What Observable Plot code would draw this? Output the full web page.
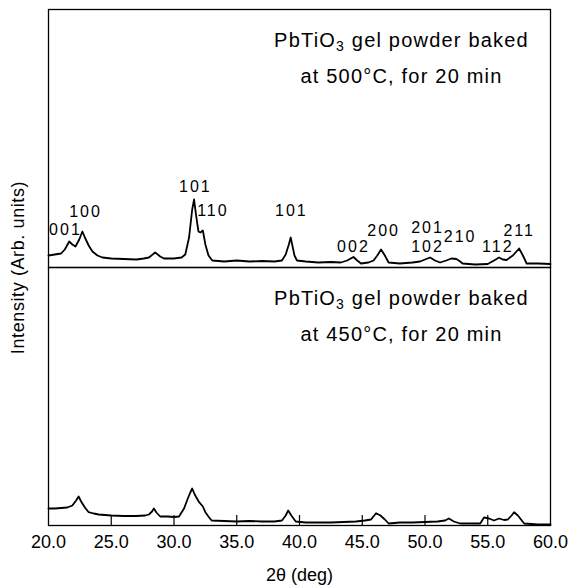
<!DOCTYPE html>
<html>
<head>
<meta charset="utf-8">
<script src="https://cdn.jsdelivr.net/npm/d3@7"></script>
<script src="https://cdn.jsdelivr.net/npm/@observablehq/plot@0.6"></script>
<style>
  html, body { margin: 0; padding: 0; background: #fff; }
  #chart svg { display: block; }
</style>
</head>
<body>
<div id="chart"></div>
<script>
// 2θ positions and intensities (arbitrary units)
const twoTheta500 = [20.0,20.5,21.0,21.3,21.65,21.9,22.15,22.45,22.7,22.9,23.2,23.5,23.9,24.3,25.0,26.0,27.0,27.6,28.0,28.5,28.9,29.2,30.0,30.6,30.9,31.2,31.45,31.6,31.75,31.95,32.1,32.3,32.5,32.75,33.05,34.0,35.0,36.0,37.0,38.0,38.6,38.9,39.15,39.3,39.45,39.6,39.8,40.5,41.5,42.5,43.3,43.8,44.3,44.6,44.9,45.5,45.9,46.2,46.5,46.8,47.1,48.0,49.0,49.6,50.0,50.4,50.8,51.2,51.7,52.1,52.5,52.8,53.0,54.0,55.0,55.5,55.9,56.2,56.5,57.0,57.5,57.8,58.1,59.0,60.0];
const intensity500 = [12,13,14,18,26,23,21,28,36,30,22,16,12,10,9,8.5,8,9,10,15,11,9,9,10,13,30,58,68,53,36,35,37,23,12,7,6,7,6,6.5,6,7,13,23,30,21,12,7,6,5,5.5,5,7,10.5,7,4,5,7,12,18,12,5,4,5,6,8,10,7,5,7,9,8.5,6,4,3,3.5,7,10,8,7.5,12,19,12,4,4,3.5];

const twoTheta450 = [20.0,20.5,21.0,21.5,21.9,22.2,22.4,22.6,22.9,23.2,23.6,24.0,25.0,26.0,27.0,27.7,28.0,28.25,28.4,28.6,28.9,29.5,30.0,30.4,30.8,31.1,31.3,31.45,31.65,32.0,32.3,32.5,32.8,33.0,34.0,35.0,36.0,37.0,38.0,38.6,38.9,39.1,39.35,39.7,40.5,41.5,42.5,43.5,44.5,45.2,45.7,46.1,46.45,46.8,47.1,48.0,49.0,50.0,51.0,51.6,51.9,52.3,52.8,53.5,54.4,54.7,55.1,55.5,55.9,56.3,56.6,56.9,57.1,57.4,57.9,59.0,60.0];
const intensity450 = [17,17,17.5,18,20,25,29,24,18,13.3,12,11,10,9.5,9.5,10,11,14,17,13,9,9,8.5,9,17,27,33,37,31,23.3,19,13.3,8,5,4.5,4,4.5,4,4,5,10,15,10,4,3,3,3,3.5,4,5,6,12.3,10,6,2,3,3,3.5,4,5,7,4,2,2,2,8,7,5,7,5.5,6,10,13.3,10,2,1,1];

// Miller-index labels of the 500 °C pattern
const peakLabels = ["001","100","101","110","101","002","200","201","102","210","112","211"];
const peakX      = [21.35,22.95,31.7,33.1,39.35,44.3,46.7,50.2,50.2,52.8,55.8,57.5];
const peakY      = [38,56,81,57,57,21,37,40,21,31,21,37];

const panels = ["500", "450"];
const noteLine1 = "PbTiO3 gel powder baked";
const noteLine2 = {"500": "at 500°C, for 20 min", "450": "at 450°C, for 20 min"};
const xTicks = [20, 25, 30, 35, 40, 45, 50, 55, 60];
const xLabel = "2θ (deg)";
const yLabel = "Intensity (Arb. units)";

const rows = [
  ...twoTheta500.map((x, i) => ({x, y: intensity500[i], panel: "500"})),
  ...twoTheta450.map((x, i) => ({x, y: intensity450[i], panel: "450"}))
];
const peaks = peakLabels.map((t, i) => ({t, x: peakX[i], y: peakY[i], panel: "500"}));

const font = "'Liberation Sans', Arial, Helvetica, sans-serif";

const chart = Plot.plot({
  width: 574,
  height: 585,
  marginTop: 9,
  marginBottom: 60,
  marginLeft: 48,
  marginRight: 24,
  style: {fontFamily: font, color: "#000", background: "#fff"},
  x: {domain: [20, 60], label: null},
  y: {domain: [0, 258], axis: null},
  fy: {domain: panels, axis: null, padding: 0},
  marks: [
    Plot.frame({stroke: "#000", strokeWidth: 1.3}),
    Plot.ruleX(xTicks.slice(1, -1), {x: d => d, y1: 0, y2: 10, fy: () => "450", stroke: "#000", strokeWidth: 1.2}),
    Plot.line(rows, {x: "x", y: "y", fy: "panel", z: "panel", stroke: "#000", strokeWidth: 1.8, strokeLinejoin: "round"}),
    Plot.text(peaks, {x: "x", y: "y", fy: "panel", text: "t", fontSize: 16, fill: "#000"}),
    Plot.text(panels, {fy: d => d, text: () => noteLine1, frameAnchor: "top", lineAnchor: "middle", dx: 102, dy: 31, fontSize: 20, fill: "#000"}),
    Plot.text(panels, {fy: d => d, text: d => noteLine2[d], frameAnchor: "top", lineAnchor: "middle", dx: 102, dy: 67, fontSize: 20, fill: "#000"}),
    Plot.axisX(xTicks, {tickSize: 0, tickPadding: 10, tickFormat: d => d.toFixed(1), fontSize: 18, label: null}),
    Plot.text([yLabel], {fy: () => "500", frameAnchor: "bottom-left", rotate: -90, textAnchor: "middle", lineAnchor: "middle", dx: -30, fontSize: 18, fill: "#000"}),
    Plot.text([xLabel], {fy: () => "450", frameAnchor: "bottom", lineAnchor: "middle", dy: 50, fontSize: 18, fill: "#000"})
  ]
});
document.getElementById("chart").appendChild(chart);

const ns = "http://www.w3.org/2000/svg";
const line2Texts = Object.values(noteLine2);
chart.querySelectorAll("text, tspan").forEach(el => {
  if (el.children.length !== 0) return;
  const s = el.textContent;
  if (peakLabels.includes(s)) el.style.letterSpacing = "2px";
  else if (line2Texts.includes(s)) el.style.letterSpacing = "1.2px";
  else if (s === yLabel) el.style.letterSpacing = "0.6px";
  else if (s === noteLine1) {
    // subscript the 3 of PbTiO3
    el.style.letterSpacing = "1.2px";
    el.textContent = "";
    const a = document.createElementNS(ns, "tspan"); a.textContent = "PbTiO";
    const b = document.createElementNS(ns, "tspan"); b.textContent = "3"; b.setAttribute("dy", "4"); b.setAttribute("font-size", "14");
    const c = document.createElementNS(ns, "tspan"); c.textContent = " gel powder baked"; c.setAttribute("dy", "-4");
    el.append(a, b, c);
  }
});
</script>
</body>
</html>
